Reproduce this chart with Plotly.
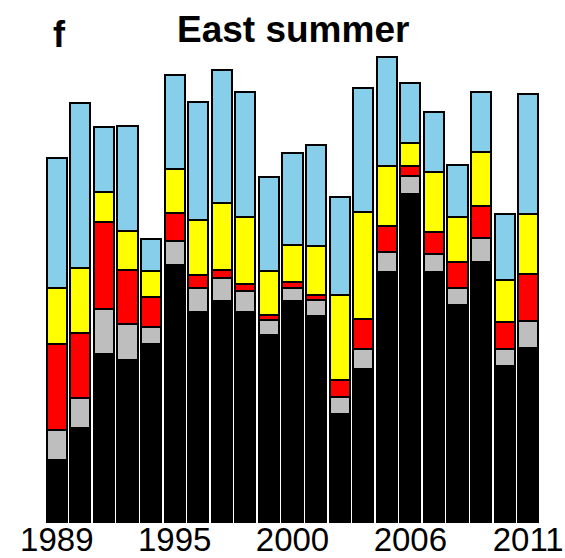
import plotly.graph_objects as go

years = ["1989", "1990", "1991", "1992", "1994", "1995", "1996", "1997", "1998", "1999",
         "2000", "2001", "2003", "2004", "2005", "2006", "2007", "2008", "2009", "2010", "2011"]
tick_years = ["1989", "1995", "2000", "2006", "2011"]

black = [6.35, 9.52, 16.92, 16.28, 17.92, 25.78, 21.15, 22.18, 21.12, 18.78, 22.18,
         20.68, 10.95, 15.42, 25.12, 32.95, 25.12, 21.85, 26.12, 15.75, 17.52]
gray = [2.93, 2.96, 4.46, 3.64, 1.66, 2.50, 2.40, 2.37, 2.13, 1.57, 1.34,
        1.67, 1.63, 2.03, 1.96, 1.83, 1.83, 1.67, 2.40, 1.70, 2.73]
red = [8.67, 6.57, 8.80, 5.36, 3.00, 2.80, 1.23, 0.80, 0.65, 0.43, 0.58,
       0.50, 1.77, 2.97, 2.70, 1.00, 2.17, 2.56, 3.26, 2.63, 4.67]
yellow = [5.60, 6.43, 2.94, 4.00, 2.64, 4.40, 5.54, 6.73, 6.72, 4.40, 3.68,
          4.87, 8.50, 10.68, 6.00, 2.30, 6.06, 4.60, 5.40, 4.27, 6.03]
skyblue = [13.03, 16.60, 6.56, 10.50, 3.23, 9.34, 11.86, 13.27, 12.56, 9.50, 9.24,
           10.13, 9.80, 12.48, 10.90, 6.00, 6.00, 5.17, 5.94, 6.57, 12.00]

series = [(black, "black"), (gray, "#BEBEBE"), (red, "#FF0000"),
          (yellow, "#FFFF00"), (skyblue, "#87CEEB")]

fig = go.Figure()
for vals, col in series:
    fig.add_trace(go.Bar(x=years, y=vals, marker=dict(color=col, line=dict(color="black", width=2)),
                         showlegend=False))

fig.update_layout(
    barmode="stack",
    bargap=0.15,
    width=565, height=558,
    margin=dict(l=45, r=25, t=50, b=34.5),
    plot_bgcolor="white", paper_bgcolor="white",
    xaxis=dict(type="category", tickmode="array", tickvals=tick_years, ticktext=tick_years,
               showgrid=False, showline=False, zeroline=False, ticks="",
               ticklabelstandoff=-6,
               tickfont=dict(family="Liberation Sans, Arial", size=33, color="black"),
               range=[-0.5, len(years) - 0.5], automargin=False),
    yaxis=dict(range=[0, 47.35], visible=False, showgrid=False, zeroline=False),
    annotations=[
        dict(text="<b>East summer</b>", xref="paper", yref="paper", x=0.5, y=1,
             yshift=21, xanchor="center", yanchor="middle", showarrow=False,
             font=dict(family="Liberation Sans, Arial", size=37, color="black")),
        dict(text="<b>f</b>", xref="paper", yref="paper", x=0, y=1, xshift=14, yshift=16,
             xanchor="center", yanchor="middle", showarrow=False,
             font=dict(family="Liberation Sans, Arial", size=36, color="black")),
    ],
)

fig.write_html("out.html")
